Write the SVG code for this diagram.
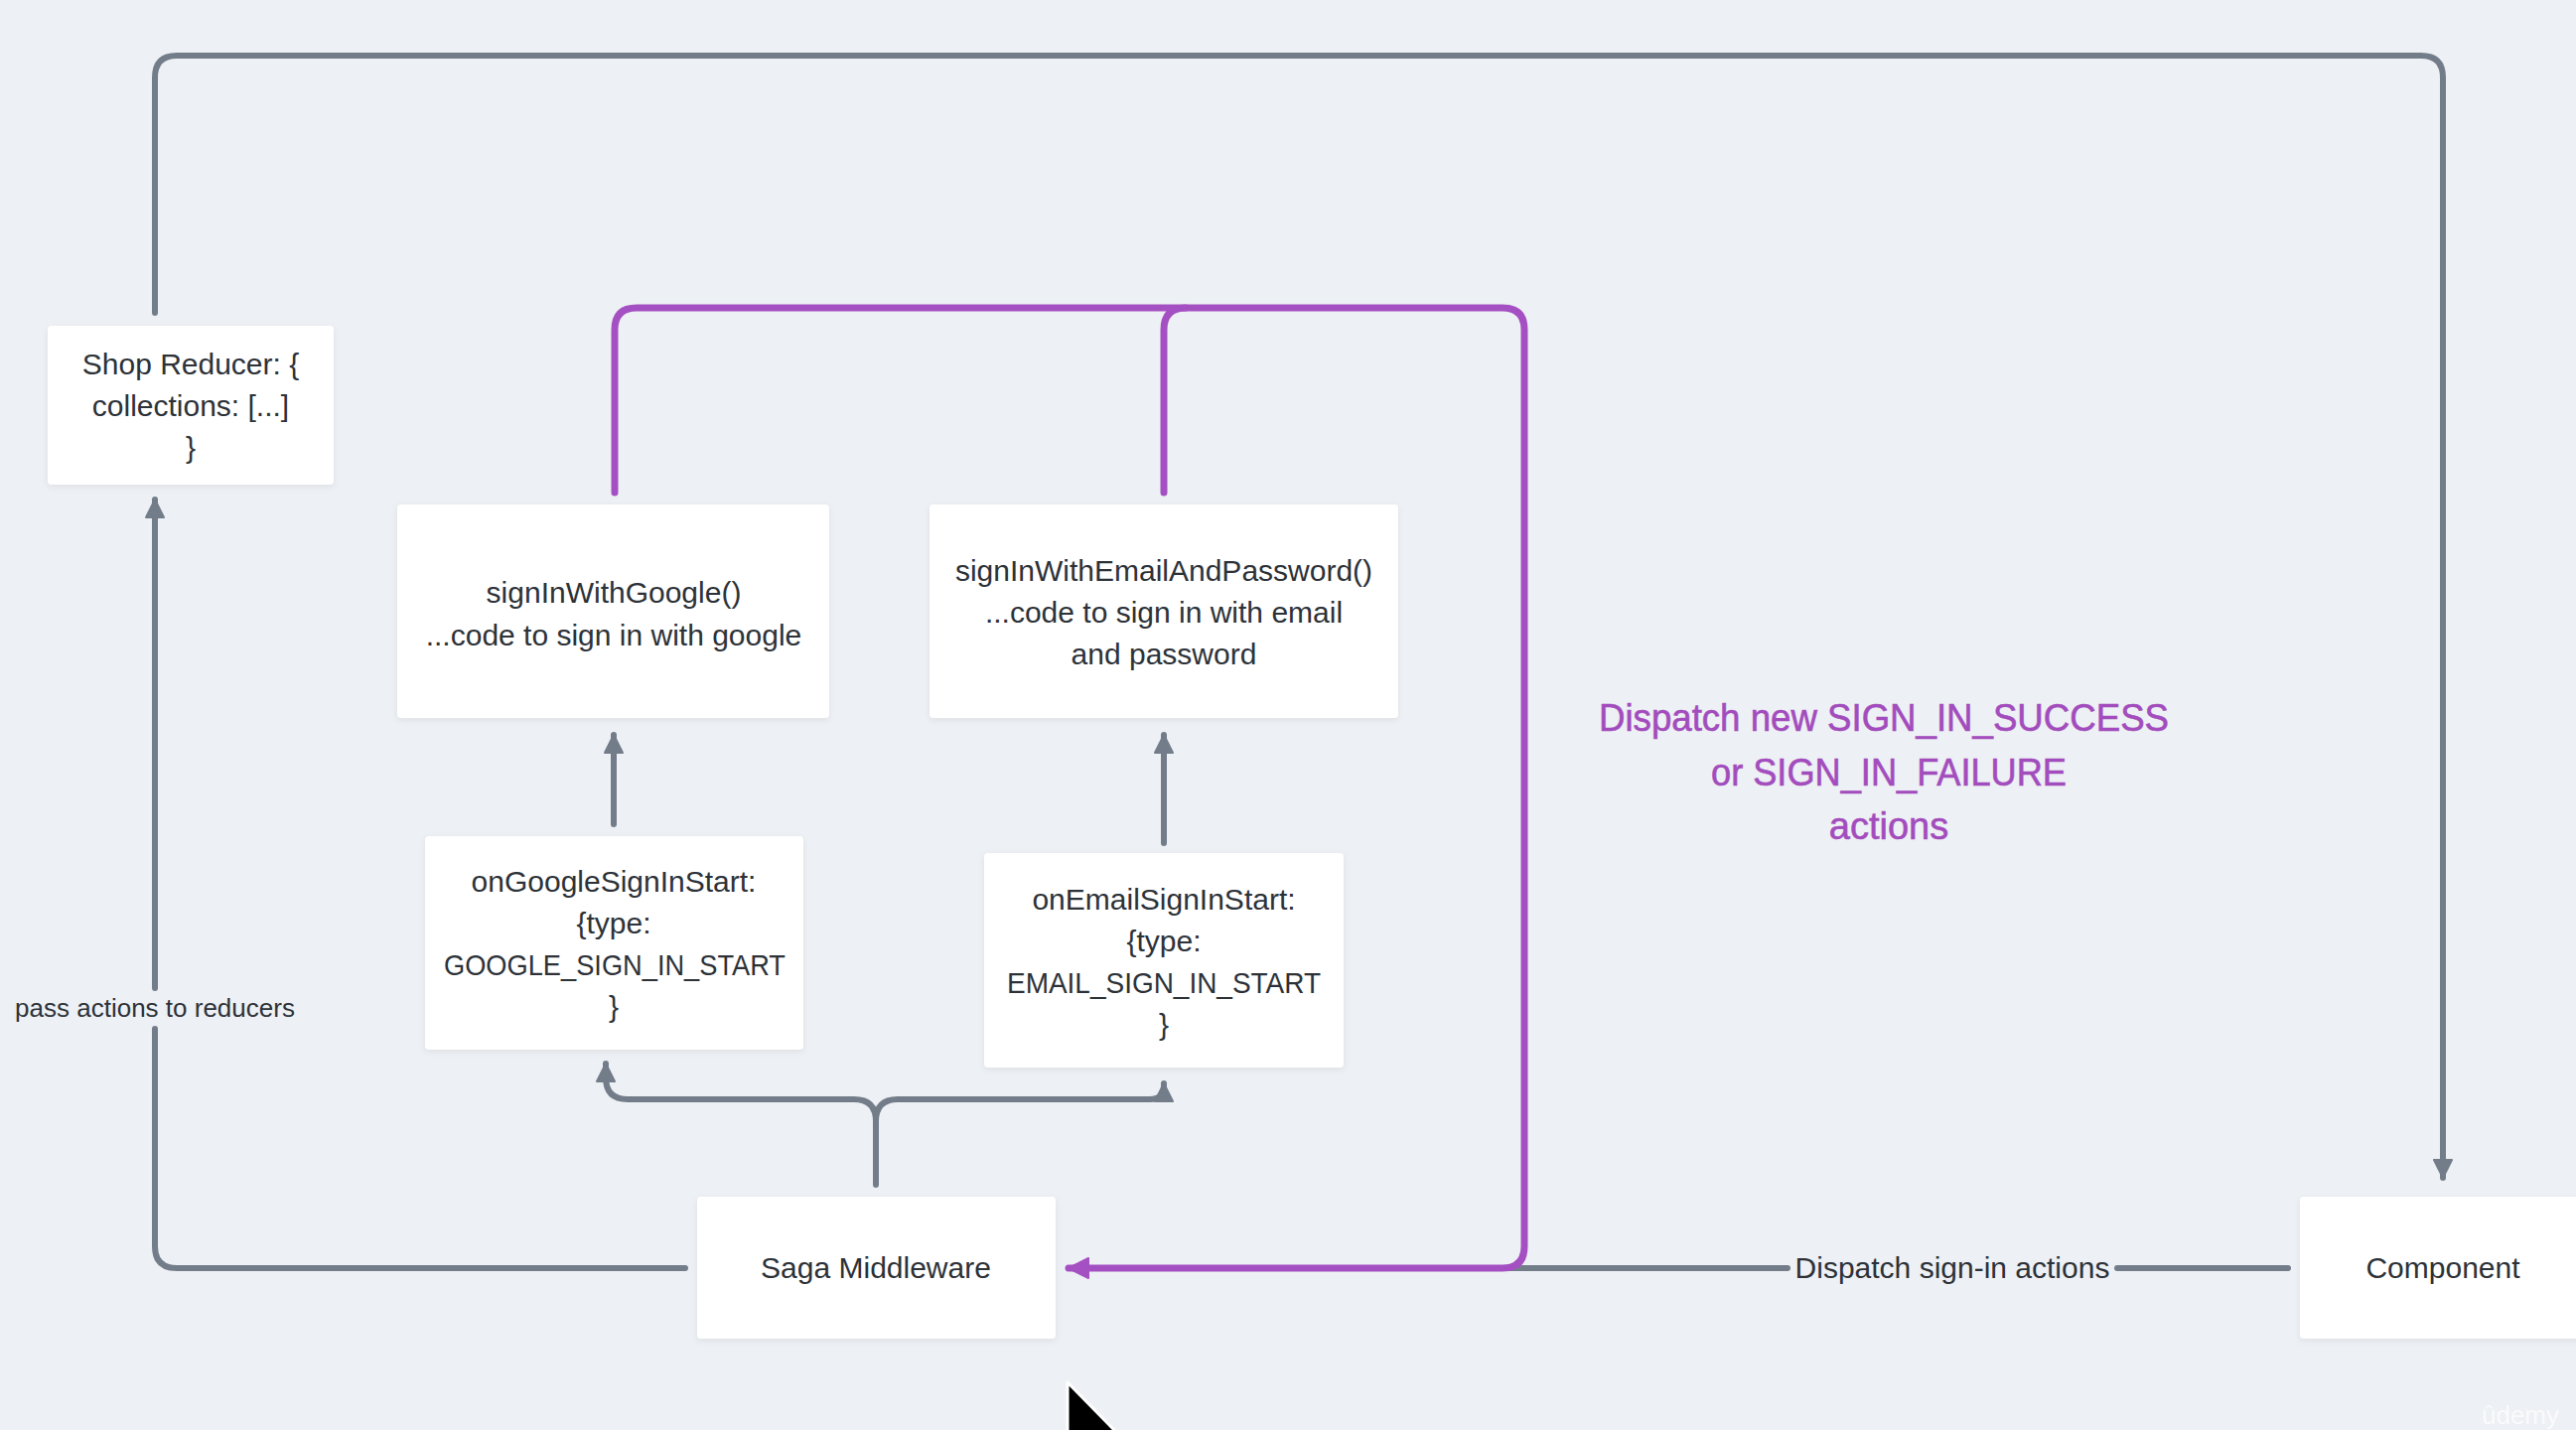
<svg xmlns="http://www.w3.org/2000/svg" width="2594" height="1440" viewBox="0 0 2594 1440">
  <defs>
    <style>
      .box { fill: #ffffff; filter: url(#shadow); }
      .t { font-family: "Liberation Sans", Arial, sans-serif; font-size: 30px; fill: #2d3238; text-anchor: middle; }
      .small { font-size: 26px; }
      .note { font-family: "Liberation Sans", Arial, sans-serif; font-size: 38px; fill: #a34cbd; text-anchor: middle; stroke: #a34cbd; stroke-width: 0.6px; }
      .gray { fill: none; stroke: #737d8a; stroke-width: 6; stroke-linecap: round; stroke-linejoin: round; }
      .purple { fill: none; stroke: #a550c2; stroke-width: 7; stroke-linecap: round; stroke-linejoin: round; }
    </style>
    <filter id="shadow" x="-10%" y="-10%" width="120%" height="130%">
      <feDropShadow dx="0" dy="2" stdDeviation="3" flood-color="#000000" flood-opacity="0.07"/>
    </filter>
    <marker id="ah-gray" markerUnits="userSpaceOnUse" viewBox="0 0 20 20" refX="19" refY="10" markerWidth="20" markerHeight="20" orient="auto">
      <path d="M1,1 L19,10 L1,19 Z" fill="#737d8a" stroke="#737d8a" stroke-width="2" stroke-linejoin="round"/>
    </marker>
    <marker id="ah-purple" markerUnits="userSpaceOnUse" viewBox="0 0 22 22" refX="21" refY="11" markerWidth="22" markerHeight="22" orient="auto">
      <path d="M1,1 L21,11 L1,21 Z" fill="#a550c2" stroke="#a550c2" stroke-width="2" stroke-linejoin="round"/>
    </marker>
  </defs>

  <rect width="2594" height="1440" fill="#edf0f4"/>

  <!-- connectors -->
  <g id="connectors">
    <!-- Shop Reducer back around to Component -->
    <path class="gray" d="M156,315 V78 Q156,56 178,56 H2438 Q2460,56 2460,78 V1186" marker-end="url(#ah-gray)"/>
    <!-- Saga Middleware passes actions to reducers -->
    <path class="gray" d="M690,1277 H178 Q156,1277 156,1255 V1036"/>
    <path class="gray" d="M156,995 V503" marker-end="url(#ah-gray)"/>
    <!-- Saga Middleware forks to the two start listeners -->
    <path class="gray" d="M882,1193 V1129 Q882,1107 860,1107 H632 Q610,1107 610,1085 V1071" marker-end="url(#ah-gray)"/>
    <path class="gray" d="M882,1129 Q882,1107 904,1107 H1158 Q1172,1107 1172,1093 V1091" marker-end="url(#ah-gray)"/>
    <!-- start listeners call sign-in functions -->
    <path class="gray" d="M618,830 V740" marker-end="url(#ah-gray)"/>
    <path class="gray" d="M1172,849 V740" marker-end="url(#ah-gray)"/>
    <!-- Component dispatches sign-in actions -->
    <path class="gray" d="M2304,1277 H2132"/>
    <path class="gray" d="M1800,1277 H1090"/>
    <!-- sign-in results dispatched back to Saga Middleware -->
    <path class="purple" d="M619,496 V332 Q619,310 641,310 H1513 Q1535,310 1535,332 V1255 Q1535,1277 1513,1277 H1076" marker-end="url(#ah-purple)"/>
    <path class="purple" d="M1172,496 V332 Q1172,310 1194,310"/>
  </g>

  <!-- connector labels -->
  <g id="labels">
    <text class="t small" x="156" y="1024">pass actions to reducers</text>
    <text class="t" x="1966" y="1287">Dispatch sign-in actions</text>
    <text class="note" x="1897" y="736" textLength="574" lengthAdjust="spacingAndGlyphs">Dispatch new SIGN_IN_SUCCESS</text>
    <text class="note" x="1902" y="791" textLength="358" lengthAdjust="spacingAndGlyphs">or SIGN_IN_FAILURE</text>
    <text class="note" x="1902" y="845">actions</text>
  </g>

  <g id="shop-reducer">
    <rect class="box" x="48" y="328" width="288" height="160" rx="4"/>
    <text class="t" x="192" y="377">Shop Reducer: {</text>
    <text class="t" x="192" y="419">collections: [...]</text>
    <text class="t" x="192" y="461">}</text>
  </g>

  <g id="sign-in-with-google">
    <rect class="box" x="400" y="508" width="435" height="215" rx="4"/>
    <text class="t" x="618" y="607">signInWithGoogle()</text>
    <text class="t" x="618" y="650">...code to sign in with google</text>
  </g>

  <g id="sign-in-with-email">
    <rect class="box" x="936" y="508" width="472" height="215" rx="4"/>
    <text class="t" x="1172" y="585">signInWithEmailAndPassword()</text>
    <text class="t" x="1172" y="627">...code to sign in with email</text>
    <text class="t" x="1172" y="669">and password</text>
  </g>

  <g id="on-google-sign-in-start">
    <rect class="box" x="428" y="842" width="381" height="215" rx="4"/>
    <text class="t" x="618" y="898">onGoogleSignInStart:</text>
    <text class="t" x="618" y="940">{type:</text>
    <text class="t" x="619" y="982" textLength="344" lengthAdjust="spacingAndGlyphs">GOOGLE_SIGN_IN_START</text>
    <text class="t" x="618" y="1024">}</text>
  </g>

  <g id="on-email-sign-in-start">
    <rect class="box" x="991" y="859" width="362" height="216" rx="4"/>
    <text class="t" x="1172" y="916">onEmailSignInStart:</text>
    <text class="t" x="1172" y="958">{type:</text>
    <text class="t" x="1172" y="1000" textLength="316" lengthAdjust="spacingAndGlyphs">EMAIL_SIGN_IN_START</text>
    <text class="t" x="1172" y="1042">}</text>
  </g>

  <g id="saga-middleware">
    <rect class="box" x="702" y="1205" width="361" height="143" rx="4"/>
    <text class="t" x="882" y="1287">Saga Middleware</text>
  </g>

  <g id="component">
    <rect class="box" x="2316" y="1205" width="290" height="143" rx="4"/>
    <text class="t" x="2460" y="1287">Component</text>
  </g>

  <!-- pointer -->
  <polygon points="1075,1392 1075,1462 1091,1446 1102,1472 1112,1468 1101,1442 1124,1442" fill="#000000" stroke="#ffffff" stroke-width="3" stroke-linejoin="round"/>

  <text x="2538" y="1434" font-family="Liberation Sans, Arial, sans-serif" font-size="26" fill="#ffffff" fill-opacity="0.75" text-anchor="middle">ûdemy</text>
</svg>
